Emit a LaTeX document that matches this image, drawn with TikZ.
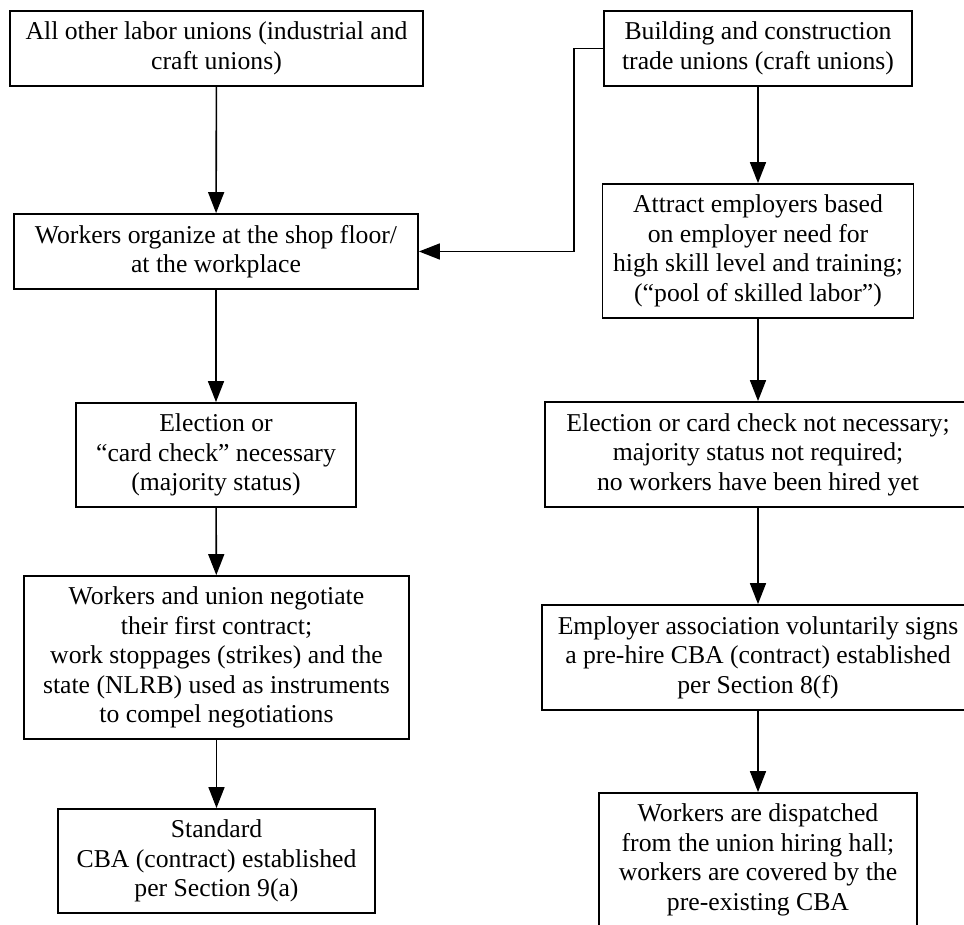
\documentclass[tikz,border=0pt]{standalone}
\usepackage{fontspec}
\setmainfont{Liberation Serif}
\usetikzlibrary{arrows.meta}
\tikzset{
  flowbox/.style={draw=black, line width=1.8pt, fill=white, inner sep=0pt, align=center,
    font=\fontsize{25.7}{29.5}\selectfont},
  flowarrow/.style={line width=1.6pt, -{Triangle[length=21pt,width=16pt]}}
}
\begin{document}
\begin{tikzpicture}[x=1pt,y=1pt]
\useasboundingbox (0,0) rectangle (964,924);
\clip (0,0) rectangle (964,924);
% left column
\node[flowbox, minimum width=413pt, minimum height=75pt] (L1) at (216.5,875.5)
  {All other labor unions (industrial and\\craft unions)};
\node[flowbox, minimum width=404pt, minimum height=75pt] (L2) at (216,672.5)
  {Workers organize at the shop floor/\\at the workplace};
\node[flowbox, minimum width=280pt, minimum height=104pt] (L3) at (216,469)
  {Election or\\“card check” necessary\\(majority status)};
\node[flowbox, minimum width=385pt, minimum height=163pt] (L4) at (216.5,266.5)
  {Workers and union negotiate\\their first contract;\\work stoppages (strikes) and the\\state (NLRB) used as instruments\\to compel negotiations};
\node[flowbox, minimum width=317pt, minimum height=104pt] (L5) at (216.5,63)
  {Standard\\CBA (contract) established\\per Section 9(a)};
% right column
\node[flowbox, minimum width=308pt, minimum height=75pt] (R1) at (758,875.5)
  {Building and construction\\trade unions (craft unions)};
\node[flowbox, minimum width=311pt, minimum height=134pt] (R2) at (758,673)
  {Attract employers based\\on employer need for\\high skill level and training;\\(“pool of skilled labor”)};
\node[flowbox, minimum width=426pt, minimum height=105pt] (R3) at (758,469.5)
  {Election or card check not necessary;\\majority status not required;\\no workers have been hired yet};
\node[flowbox, minimum width=432pt, minimum height=105pt] (R4) at (758,266.5)
  {Employer association voluntarily signs\\a pre-hire CBA (contract) established\\per Section 8(f)};
\node[flowbox, minimum width=318pt, minimum height=134pt] (R5) at (758,64)
  {Workers are dispatched\\from the union hiring hall;\\workers are covered by the\\pre-existing CBA};
% connectors
\draw[flowarrow] (L1) -- (L2);
\draw[flowarrow] (L2) -- (L3);
\draw[flowarrow] (L3) -- (L4);
\draw[flowarrow] (L4) -- (L5);
\draw[flowarrow] (R1) -- (R2);
\draw[flowarrow] (R2) -- (R3);
\draw[flowarrow] (R3) -- (R4);
\draw[flowarrow] (R4) -- (R5);
\coordinate (bendA) at (574,875.5);
\coordinate (bendB) at (574,672.5);
\draw[flowarrow] (R1.west) -- (bendA) -- (bendB) -- (L2.east);
\end{tikzpicture}
\end{document}
